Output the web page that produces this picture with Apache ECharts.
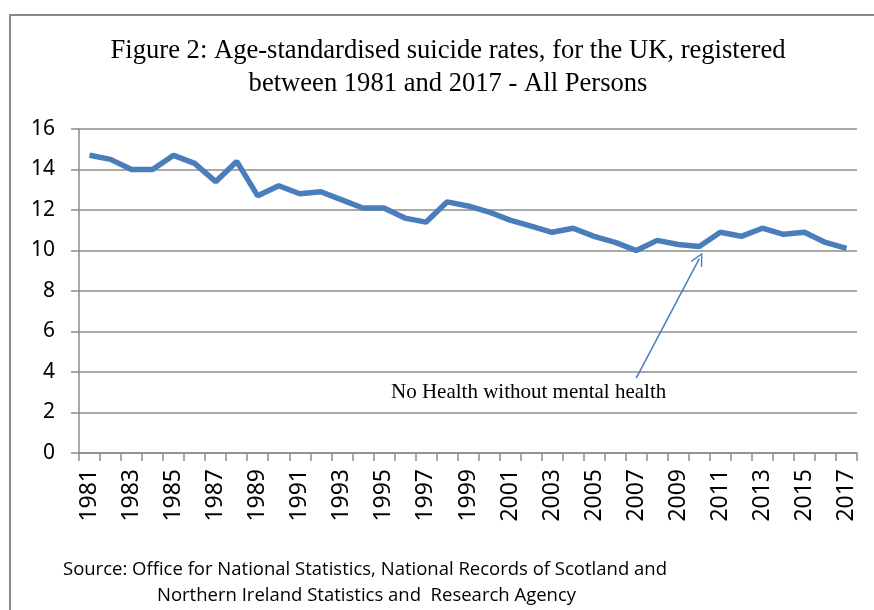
<!DOCTYPE html>
<html>
<head>
<meta charset="utf-8">
<script src="https://cdn.jsdelivr.net/npm/echarts@6/dist/echarts.min.js"></script>
<style>
  html, body { margin: 0; padding: 0; background: #fff; }
  #main { width: 874px; height: 610px; }
</style>
</head>
<body>
<div id="main"></div>
<script>
// years 1981..2017
var years = [];
for (var y = 1981; y <= 2017; y++) years.push(String(y));

// age-standardised rate per 100,000
var rates = [
  14.7, 14.5, 14.0, 14.0, 14.7, 14.3, 13.4, 14.4, 12.7, 13.2,
  12.8, 12.9, 12.5, 12.1, 12.1, 11.6, 11.4, 12.4, 12.2, 11.9,
  11.5, 11.2, 10.9, 11.1, 10.7, 10.4, 10.0, 10.5, 10.3, 10.2,
  10.9, 10.7, 11.1, 10.8, 10.9, 10.4, 10.1
];

var titleLines = [
  'Figure 2: Age-standardised suicide rates, for the UK, registered',
  'between 1981 and 2017 - All Persons'
];
var sourceLines = [
  'Source: Office for National Statistics, National Records of Scotland and',
  'Northern Ireland Statistics and  Research Agency'
];
var noteText = 'No Health without mental health';
// arrow from the note up to the line (category index, value)
var arrowFrom = [25.6, 3.7];
var arrowTo = [29.2, 9.6];

var gridGray = '#8c8c8c';
var lineBlue = '#4a7ebb';
var labelFont = '"Noto Sans", "Open Sans", sans-serif';
var serif = '"Liberation Serif", "Times New Roman", serif';
var srcFont = '18.5px "Open Sans", sans-serif';

var chart = echarts.init(document.getElementById('main'));

var option = {
  backgroundColor: '#fff',
  animation: false,
  grid: { left: 79, right: 17, top: 129, bottom: 157 },
  xAxis: {
    type: 'category',
    data: years,
    boundaryGap: true,
    axisLine: { lineStyle: { color: gridGray, width: 1.5 } },
    axisTick: { show: true, length: 8, interval: 0, lineStyle: { color: gridGray, width: 1.5 } },
    axisLabel: {
      interval: 1,
      rotate: 90,
      margin: 16,
      fontFamily: labelFont,
      fontSize: 23,
      color: '#000'
    },
    splitLine: { show: false }
  },
  yAxis: {
    type: 'value',
    min: 0,
    max: 16,
    interval: 2,
    axisLine: { show: true, lineStyle: { color: gridGray, width: 1.5 } },
    axisTick: { show: true, length: 8, lineStyle: { color: gridGray, width: 1.5 } },
    axisLabel: {
      margin: 24,
      fontFamily: labelFont,
      fontSize: 21,
      color: '#000'
    },
    splitLine: { lineStyle: { color: gridGray, width: 1.5 } }
  },
  series: [{
    type: 'line',
    data: rates,
    symbol: 'none',
    lineStyle: { color: lineBlue, width: 5.5 },
    markLine: {
      silent: true,
      symbol: ['none', 'path://M0,14 L7,0 L14,14 L12.6,14.8 L7,3.2 L1.4,14.8 Z'],
      symbolSize: [13, 13],
      label: { show: false },
      lineStyle: { color: lineBlue, width: 1.5, type: 'solid' },
      data: [[
        { coord: arrowFrom },
        { coord: arrowTo }
      ]]
    }
  }],
  graphic: [
    {
      type: 'rect',
      shape: { x: 10, y: 15, width: 900, height: 640 },
      style: { fill: 'none', stroke: '#8a8a8a', lineWidth: 2 },
      silent: true
    },
    {
      type: 'text',
      x: 448, y: 51,
      style: {
        text: titleLines[0],
        font: '26.6px ' + serif,
        fill: '#000',
        textAlign: 'center',
        textVerticalAlign: 'middle'
      }
    },
    {
      type: 'text',
      x: 448, y: 84,
      style: {
        text: titleLines[1],
        font: '26.6px ' + serif,
        fill: '#000',
        textAlign: 'center',
        textVerticalAlign: 'middle'
      }
    },
    {
      type: 'text',
      x: 391, y: 392,
      style: {
        text: noteText,
        font: '21px ' + serif,
        fill: '#000',
        textVerticalAlign: 'middle'
      }
    },
    {
      type: 'text',
      x: 63, y: 570,
      style: { text: sourceLines[0], font: srcFont, fill: '#000', textVerticalAlign: 'middle' }
    },
    {
      type: 'text',
      x: 157, y: 596,
      style: { text: sourceLines[1], font: srcFont, fill: '#000', textVerticalAlign: 'middle' }
    }
  ]
};

chart.setOption(option);
</script>
</body>
</html>
